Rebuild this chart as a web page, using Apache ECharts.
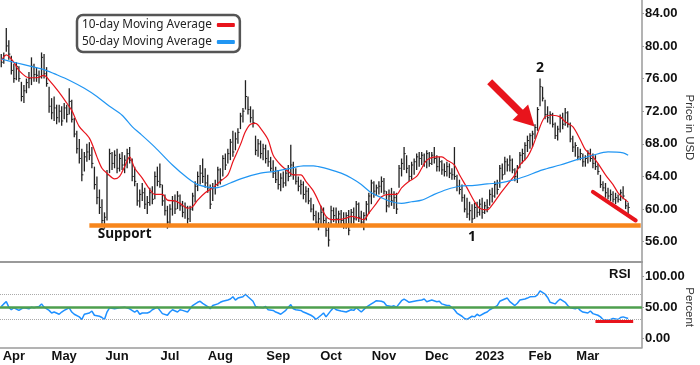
<!DOCTYPE html>
<html><head><meta charset="utf-8">
<script src="https://cdn.jsdelivr.net/npm/echarts@6.0.0/dist/echarts.min.js"></script>
<style>html,body{margin:0;padding:0;background:#fff}#chart{width:700px;height:365px}</style>
</head><body><div id="chart"></div>
<script>
// ---------- categories (trading days) ----------
const startDate = '2022-03-25';
const categoryCount = 255;
const holidays = ['2022-04-15','2022-05-30','2022-06-20','2022-07-04','2022-09-05','2022-11-24','2022-12-26','2023-01-02','2023-01-16','2023-02-20'];
const monthTickLabels = {'2022-04':'Apr','2022-05':'May','2022-06':'Jun','2022-07':'Jul','2022-08':'Aug','2022-09':'Sep','2022-10':'Oct','2022-11':'Nov','2022-12':'Dec','2023-01':'2023','2023-02':'Feb','2023-03':'Mar'};

// ---------- price bars ----------
const highs = [
79.0,79.2,82.2,80.7,78.8,77.8,78.0,77.5,75.6,75.2,
76.0,76.8,78.6,77.8,77.4,77.0,79.2,79.0,77.4,75.0,
73.6,73.8,72.8,72.8,72.6,73.0,72.8,74.8,73.4,71.2,
69.6,68.6,67.4,67.0,68.0,68.2,67.6,65.2,64.0,62.4,
61.2,59.6,64.8,67.4,67.0,67.2,67.4,66.8,67.0,66.6,
67.4,67.6,66.2,65.2,63.2,62.4,63.2,62.6,61.6,62.6,
62.8,64.6,65.2,65.6,63.0,61.8,60.4,60.6,61.6,61.8,
62.2,61.8,61.0,60.8,60.4,60.4,62.0,63.4,64.6,65.4,
66.2,65.0,64.2,63.0,63.2,63.6,65.2,65.0,66.6,66.8,
67.4,68.6,69.6,69.4,69.9,71.8,72.4,75.8,73.8,72.6,
72.2,69.0,68.6,68.4,68.0,67.9,67.2,66.4,66.0,65.2,
64.8,64.4,64.6,65.0,65.4,67.9,65.8,65.0,64.0,63.6,
63.4,62.8,62.6,61.4,60.6,59.8,59.6,60.4,60.2,59.0,
58.4,60.4,60.2,60.2,59.8,59.9,59.6,59.6,59.9,60.0,
60.2,61.0,60.8,59.8,59.6,61.0,62.0,63.6,63.4,63.0,
63.4,64.0,63.8,62.2,62.4,62.6,62.2,62.0,65.4,66.2,
67.6,66.6,65.4,65.8,66.2,66.8,67.0,67.0,66.8,67.2,
67.0,67.0,67.6,66.6,66.4,66.0,65.6,65.8,65.6,65.0,
67.6,64.2,63.6,63.0,61.8,61.4,60.9,60.6,60.8,60.9,
61.2,61.4,60.9,61.2,62.4,62.6,63.4,63.6,65.4,65.6,
66.4,66.2,66.6,66.2,65.0,65.4,67.0,67.4,68.2,69.0,
69.3,69.6,70.4,72.5,76.0,75.0,73.4,72.6,72.0,71.8,
70.6,70.2,71.6,71.8,72.4,72.0,70.6,69.0,68.2,67.6,
67.4,66.8,66.6,67.2,67.4,66.8,66.6,65.6,64.2,63.4,
63.2,62.6,62.4,62.2,62.0,61.8,62.4,62.8,61.2,60.8];
const lows = [
77.4,77.8,79.3,78.3,76.5,75.5,75.8,75.6,73.2,73.0,
74.2,74.8,75.2,75.6,75.6,75.4,76.0,76.0,75.0,71.8,
71.0,70.8,70.4,70.6,70.2,71.0,70.6,71.6,70.6,68.8,
66.8,65.6,63.4,64.6,65.8,66.0,65.0,62.4,60.6,59.4,
57.8,57.6,58.6,64.4,64.8,65.0,64.4,64.6,64.8,64.4,
65.0,65.6,63.4,62.8,60.4,60.2,61.0,60.0,59.4,60.4,
60.6,61.2,62.8,62.6,60.4,59.2,57.6,57.8,59.2,59.4,
60.0,59.8,59.0,58.8,58.2,58.4,59.8,60.8,62.2,63.0,
63.2,62.6,62.0,60.0,61.0,61.8,62.8,63.0,64.0,64.8,
65.6,66.0,66.4,67.2,68.0,69.8,70.6,72.2,71.6,70.6,
70.0,66.6,66.4,66.2,66.0,65.6,65.2,64.6,63.8,63.2,
62.4,62.2,62.6,62.8,63.4,64.0,63.6,63.0,62.2,61.8,
61.2,60.8,60.6,59.6,58.6,57.8,57.4,58.0,58.0,56.6,
55.4,57.8,58.4,58.0,57.8,58.0,57.6,57.6,56.8,58.0,
58.2,58.6,58.4,57.8,57.4,58.6,59.4,60.6,61.4,61.6,
61.8,62.0,61.8,59.6,60.2,60.4,60.0,59.4,62.6,64.0,
64.8,64.4,63.4,63.6,64.2,64.8,65.2,65.4,65.2,65.0,
65.2,65.4,65.6,64.6,64.6,64.2,64.0,64.0,63.8,63.6,
63.6,62.2,61.8,60.9,59.6,58.9,58.6,58.3,58.8,59.0,
59.2,58.8,59.4,59.6,60.4,60.8,61.4,61.8,62.6,63.6,
64.2,64.6,64.6,64.4,63.4,63.2,65.0,65.6,66.0,67.0,
67.4,67.6,68.6,69.6,72.6,73.2,71.0,70.6,70.4,70.0,
68.6,68.4,69.4,69.8,70.2,70.0,68.2,67.0,66.4,66.0,
66.0,65.2,65.2,65.6,65.8,65.0,64.8,64.2,62.6,62.2,
61.4,61.2,61.0,60.8,60.6,60.8,61.0,61.2,60.0,59.4];
const closes = [
78.0,78.8,80.0,79.0,77.0,76.0,77.5,76.0,73.8,74.5,
75.5,76.0,77.5,76.5,76.4,76.2,78.6,76.6,75.4,72.6,
71.8,72.4,71.2,72.0,70.8,72.4,71.6,73.2,71.0,69.2,
67.4,66.2,64.2,66.4,67.0,66.6,65.6,63.0,61.4,60.2,
58.6,59.0,64.2,66.8,65.6,66.6,65.0,66.2,65.4,66.0,
66.8,66.0,64.0,63.4,61.0,61.8,62.0,60.6,60.8,62.0,
61.2,64.0,63.4,63.0,61.0,59.8,58.4,60.0,61.0,60.0,
61.6,60.4,59.6,60.2,58.8,60.0,61.6,62.8,64.0,64.4,
64.0,63.2,62.6,60.6,62.6,63.0,64.8,63.6,66.2,65.4,
66.8,68.2,67.0,68.6,69.4,71.4,72.0,73.8,72.2,71.2,
70.6,67.2,68.0,66.8,67.4,66.2,65.8,65.0,64.4,63.6,
63.0,63.8,63.2,64.4,64.0,65.4,64.2,63.4,62.8,63.0,
61.8,62.2,61.0,60.0,59.2,58.4,58.8,59.6,58.6,57.4,
56.2,59.8,59.2,58.8,59.4,58.6,58.2,59.2,57.4,59.6,
58.8,60.6,59.0,58.4,59.2,60.6,61.6,63.2,62.2,62.6,
62.8,63.4,62.2,60.4,61.6,61.0,61.4,60.0,65.0,65.6,
66.8,65.0,64.0,65.4,65.8,66.4,66.2,66.6,65.8,66.8,
65.6,66.6,66.2,65.2,65.8,64.8,64.6,65.2,64.4,64.2,
64.0,62.8,62.4,61.4,60.0,59.4,59.8,58.8,60.2,59.6,
60.6,59.6,60.4,60.2,61.8,61.6,63.0,62.4,65.0,64.2,
65.8,65.4,66.0,64.8,64.0,65.0,66.6,66.8,67.8,68.4,
69.0,69.2,70.0,72.2,75.0,73.6,71.6,71.2,71.6,70.4,
69.0,69.8,71.2,70.4,71.8,70.4,68.6,67.6,67.8,66.4,
66.8,65.8,66.2,66.8,66.2,65.6,65.2,64.6,63.0,62.6,
62.0,61.6,61.8,61.2,61.4,61.2,62.0,61.6,60.4,60.2];

// ---------- moving averages [bar index, value] ----------
const ma10 = [[0,78.2],[2,78.9],[5,78.0],[7,77.0],[11,76.1],[14,76.1],[17,76.4],[19,75.8],[23,74.3],[26,73.0],[28,72.1],[31,70.1],[35,68.7],[38,66.4],[40,65.0],[42,64.4],[45,63.7],[47,64.0],[49,65.2],[51,66.4],[53,65.0],[56,63.8],[59,62.4],[61,61.8],[64,61.8],[66,61.1],[69,61.0],[71,60.7],[74,60.1],[76,60.3],[78,61.1],[81,62.0],[84,62.6],[87,63.4],[90,64.2],[92,65.8],[95,67.9],[97,69.5],[99,70.4],[101,70.5],[103,69.9],[106,68.5],[108,66.6],[111,65.4],[114,64.6],[116,64.2],[119,64.2],[121,63.4],[124,62.2],[127,60.3],[129,59.1],[131,58.7],[134,58.7],[137,58.9],[139,59.1],[142,58.9],[144,58.7],[146,59.5],[149,60.7],[151,61.5],[154,61.8],[157,61.8],[159,62.6],[162,63.4],[165,64.0],[167,65.0],[169,66.0],[173,66.4],[175,66.4],[177,66.0],[180,65.4],[182,64.2],[185,62.6],[188,60.9],[190,60.1],[193,59.9],[195,60.5],[198,61.8],[201,63.0],[204,64.2],[206,65.4],[209,66.4],[211,67.6],[214,70.1],[216,71.3],[219,71.5],[222,71.3],[224,70.7],[227,70.1],[230,68.5],[232,67.3],[235,66.4],[237,65.6],[240,64.2],[243,63.0],[245,62.0],[248,61.1],[249,60.9]];
const ma50 = [[0,78.4],[5,78.0],[13,77.4],[17,77.1],[21,76.6],[27,75.8],[33,74.8],[38,73.8],[43,72.6],[48,71.5],[52,70.1],[55,69.3],[61,67.6],[68,65.4],[74,63.8],[78,63.0],[82,62.7],[85,62.6],[87,62.7],[91,63.2],[96,63.8],[103,64.4],[108,64.6],[115,65.0],[120,65.3],[124,65.3],[126,65.2],[130,64.9],[135,64.4],[139,63.8],[143,63.0],[147,62.0],[151,61.4],[155,60.9],[159,60.7],[163,60.9],[167,61.1],[172,61.8],[177,62.4],[182,62.8],[188,62.9],[193,63.1],[198,63.2],[204,63.6],[208,64.0],[215,64.8],[222,65.4],[228,66.0],[235,66.6],[241,67.0],[247,66.9],[249,66.6]];

// ---------- RSI [bar index, value] ----------
const rsi = [[0,51.0],[1,55.2],[2,58.8],[3,50.0],[4,45.8],[5,49.0],[7,44.8],[8,47.4],[9,49.0],[11,47.4],[12,50.0],[13,49.0],[15,51.0],[16,55.2],[17,50.0],[19,44.8],[20,40.6],[21,42.2],[23,38.6],[24,42.2],[25,44.8],[27,49.0],[28,42.2],[29,38.6],[31,34.4],[32,30.2],[33,38.6],[35,40.6],[36,43.8],[37,37.0],[39,35.4],[40,33.4],[41,30.2],[42,42.2],[43,49.0],[45,47.4],[47,49.0],[49,50.0],[51,47.4],[53,42.2],[54,44.8],[55,38.6],[56,40.6],[58,40.6],[59,42.2],[60,45.8],[62,50.0],[63,44.8],[64,39.6],[66,37.0],[67,42.2],[68,45.8],[70,42.2],[71,45.8],[72,44.8],[74,42.2],[75,47.4],[76,52.6],[78,57.8],[79,59.4],[80,56.2],[82,51.0],[83,47.4],[84,52.6],[86,55.2],[87,57.8],[88,59.4],[90,61.4],[91,63.0],[92,66.6],[93,61.4],[94,64.6],[96,66.6],[97,70.8],[98,66.6],[100,59.4],[101,51.0],[102,50.0],[104,49.0],[105,51.0],[106,45.8],[108,44.8],[109,42.2],[110,40.6],[111,38.6],[113,44.8],[114,50.0],[115,54.2],[116,47.4],[117,45.8],[119,44.8],[120,42.2],[121,40.6],[123,37.0],[124,34.4],[125,30.2],[127,37.0],[128,40.6],[129,34.4],[131,44.8],[132,49.0],[133,45.8],[135,43.8],[137,42.2],[139,45.8],[140,44.8],[141,49.0],[143,42.2],[145,50.0],[147,55.2],[148,57.8],[149,60.4],[151,59.4],[152,57.8],[153,52.6],[155,51.0],[156,52.1],[157,50.0],[159,60.4],[160,63.0],[161,60.4],[162,57.8],[163,58.8],[165,60.4],[167,61.4],[168,63.0],[169,58.8],[171,61.4],[173,58.8],[174,59.4],[175,55.2],[177,52.6],[178,52.6],[180,45.8],[181,40.6],[183,35.4],[184,31.8],[185,30.2],[187,35.4],[188,34.4],[189,38.6],[190,36.0],[192,40.6],[193,42.2],[194,45.8],[196,50.0],[197,52.6],[198,59.4],[200,63.0],[201,64.6],[202,58.8],[204,52.6],[205,56.2],[206,61.4],[208,63.0],[209,64.6],[210,66.6],[212,67.0],[213,69.8],[214,76.0],[216,70.8],[217,65.6],[218,57.8],[220,55.2],[221,59.4],[222,63.0],[224,57.8],[225,52.6],[226,49.0],[228,47.4],[229,49.0],[230,44.8],[231,42.2],[233,40.6],[234,43.8],[235,39.6],[237,37.0],[238,34.4],[239,30.2],[241,29.2],[242,30.2],[243,31.8],[245,30.2],[246,33.4],[247,34.4],[249,31.8]];
const rsiLevels = {overbought: 70, middle: 50, oversold: 30};

// ---------- annotations (data space) ----------
const supportLevel = 58.0;
const supportRange = [35, 254];
const trendLine = [[235, 62.1], [252, 58.6]];
const arrowLine = [[194, 75.6], [209, 71.0]];
const rsiTrend = [[236, 27.8], [251, 27.8]];
const textNotes = [['Support', 49, 56.95], ['1', 187, 56.6], ['2', 214, 77.26]];

// ---------- build ----------
function buildDates() {
  const out = [];
  const d = new Date(startDate + 'T00:00:00Z');
  while (out.length < categoryCount) {
    const wd = d.getUTCDay();
    const s = d.toISOString().slice(0, 10);
    if (wd !== 0 && wd !== 6 && holidays.indexOf(s) < 0) out.push(s);
    d.setUTCDate(d.getUTCDate() + 1);
  }
  return out;
}
const dates = buildDates();
const monthStart = new Set();
for (let i = 1; i < dates.length; i++) {
  if (dates[i].slice(0, 7) !== dates[i - 1].slice(0, 7)) monthStart.add(i);
}
const isMonthStart = (idx) => monthStart.has(idx);

const barData = highs.map((h, i) => [i, h, lows[i], closes[i]]);

const RED = '#E8141C';
const axisFont = 'Liberation Sans';
const frameColor = '#9a9a9a';
const gridBase = {left: 0, right: 58, containLabel: false, outerBoundsMode: 'none'};

const chart = echarts.init(document.getElementById('chart'), null, {renderer: 'canvas'});
chart.setOption({
  animation: false,
  backgroundColor: '#fff',
  title: {text: 'RSI', left: 609, top: 268, padding: 0,
    textStyle: {fontSize: 13, fontWeight: 'bold', color: '#111', fontFamily: axisFont}},
  legend: {
    data: ['10-day Moving Average', '50-day Moving Average'],
    orient: 'vertical', left: 77, top: 15, align: 'right',
    itemWidth: 18, itemHeight: 4, itemGap: 1, icon: 'roundRect',
    padding: [2, 5, 2, 5], borderColor: '#555', borderWidth: 2.5, borderRadius: 6,
    selectedMode: false,
    textStyle: {fontSize: 11.8, color: '#222', fontFamily: 'Noto Sans', lineHeight: 16}
  },
  grid: [
    Object.assign({top: 13.3, height: 228.4}, gridBase),
    Object.assign({top: 276, height: 62.3}, gridBase),
    Object.assign({top: 0, height: 262}, gridBase),
    Object.assign({top: 262, height: 85.3}, gridBase)
  ],
  xAxis: [
    {type: 'category', gridIndex: 0, data: dates, show: false},
    {type: 'category', gridIndex: 1, data: dates, offset: 9,
      axisLine: {onZero: false, lineStyle: {color: frameColor, width: 1.5}},
      axisTick: {interval: isMonthStart, alignWithLabel: true, inside: true, length: 3, lineStyle: {color: frameColor}},
      axisLabel: {interval: isMonthStart, formatter: (v) => monthTickLabels[v.slice(0, 7)] || '',
        fontWeight: 'bold', fontSize: 13, color: '#111', margin: 3, fontFamily: axisFont},
      splitLine: {show: false}},
    {type: 'value', gridIndex: 2,
      axisLine: {show: true, onZero: false, lineStyle: {color: frameColor, width: 2}},
      axisTick: {show: false}, axisLabel: {show: false}, splitLine: {show: false}},
    {type: 'value', gridIndex: 3, show: false}
  ],
  yAxis: [
    {type: 'value', gridIndex: 0, position: 'right', min: 56, max: 84, interval: 4,
      axisLine: {show: false}, axisTick: {show: true, length: 2, lineStyle: {color: frameColor}},
      axisLabel: {formatter: (v) => v.toFixed(2), align: 'left', fontWeight: 'bold', fontSize: 13, color: '#111', margin: 3, fontFamily: axisFont},
      splitLine: {show: false},
      name: 'Price in USD', nameLocation: 'middle', nameRotate: -90, nameGap: 41, nameMoveOverlap: false,
      nameTextStyle: {fontSize: 11.5, color: '#333', fontFamily: axisFont}},
    {type: 'value', gridIndex: 1, position: 'right', min: 0, max: 100, interval: 50,
      axisLine: {show: false}, axisTick: {show: true, length: 2, lineStyle: {color: frameColor}},
      axisLabel: {formatter: (v) => v.toFixed(2), align: 'left', fontWeight: 'bold', fontSize: 13, color: '#111', margin: 3, fontFamily: axisFont},
      splitLine: {show: false},
      name: 'Percent', nameLocation: 'middle', nameRotate: -90, nameGap: 41, nameMoveOverlap: false,
      nameTextStyle: {fontSize: 11.5, color: '#333', fontFamily: axisFont}},
    {type: 'value', gridIndex: 2, position: 'right',
      axisLine: {show: true, onZero: false, lineStyle: {color: frameColor, width: 1.5}},
      axisTick: {show: false}, axisLabel: {show: false}, splitLine: {show: false}},
    {type: 'value', gridIndex: 3, position: 'right',
      axisLine: {show: true, onZero: false, lineStyle: {color: frameColor, width: 1.5}},
      axisTick: {show: false}, axisLabel: {show: false}, splitLine: {show: false}}
  ],
  series: [
    {
      type: 'custom', name: 'Price', xAxisIndex: 0, yAxisIndex: 0, clip: false, z: 2,
      data: barData, encode: {x: 0, y: [1, 2, 3]},
      renderItem: function (params, api) {
        const i = api.value(0);
        const hi = api.coord([i, api.value(1)]);
        const lo = api.coord([i, api.value(2)]);
        const cl = api.coord([i, api.value(3)]);
        return {type: 'group', children: [
          {type: 'line', shape: {x1: hi[0], y1: hi[1], x2: lo[0], y2: lo[1]}, style: {stroke: '#222', lineWidth: 1.3}},
          {type: 'line', shape: {x1: cl[0], y1: cl[1], x2: cl[0] + 1.6, y2: cl[1]}, style: {stroke: '#222', lineWidth: 1}}
        ]};
      }
    },
    {
      type: 'line', name: '10-day Moving Average', xAxisIndex: 0, yAxisIndex: 0,
      data: ma10, smooth: 0.3, symbol: 'none', clip: false, z: 3,
      color: RED, lineStyle: {color: RED, width: 1.2},
      markLine: {
        silent: true, symbol: ['none', 'none'], label: {show: false}, animation: false,
        data: [
          [{coord: [supportRange[0], supportLevel], lineStyle: {color: '#F7861C', width: 4.5, type: 'solid'}},
           {coord: [supportRange[1], supportLevel]}],
          [{coord: trendLine[0], lineStyle: {color: RED, width: 4, type: 'solid', cap: 'round'}},
           {coord: trendLine[1]}],
          [{coord: arrowLine[0], symbol: 'none', lineStyle: {color: RED, width: 7, type: 'solid'}},
           {coord: arrowLine[1], symbol: 'triangle', symbolSize: [22, 20]}]
        ]
      },
      markPoint: {
        silent: true, symbol: 'circle', symbolSize: 0,
        data: textNotes.map(t => ({coord: [t[1], t[2]], value: t[0],
          label: {show: true, position: 'inside', formatter: t[0], fontWeight: 'bold',
            fontSize: t[0] === 'Support' ? 13.5 : 14, color: '#111', fontFamily: 'Open Sans'}}))
      }
    },
    {
      type: 'line', name: '50-day Moving Average', xAxisIndex: 0, yAxisIndex: 0,
      data: ma50, smooth: 0.3, symbol: 'none', clip: false, z: 3,
      color: '#2196F3', lineStyle: {color: '#2196F3', width: 1.2}
    },
    {
      type: 'line', name: 'RSI', xAxisIndex: 1, yAxisIndex: 1,
      data: rsi, symbol: 'none', z: 4,
      color: '#1E90FF', lineStyle: {color: '#1E90FF', width: 1.5},
      markLine: {
        silent: true, symbol: ['none', 'none'], label: {show: false}, animation: false,
        data: [
          {yAxis: rsiLevels.overbought, lineStyle: {color: '#aaa', width: 1, type: 'dotted'}},
          {yAxis: rsiLevels.oversold, lineStyle: {color: '#aaa', width: 1, type: 'dotted'}},
          {yAxis: rsiLevels.middle, lineStyle: {color: '#4E9F4E', width: 2.5, type: 'solid'}},
          [{coord: rsiTrend[0], lineStyle: {color: RED, width: 3, type: 'solid'}}, {coord: rsiTrend[1]}]
        ]
      }
    }
  ]
});
</script>
</body></html>
